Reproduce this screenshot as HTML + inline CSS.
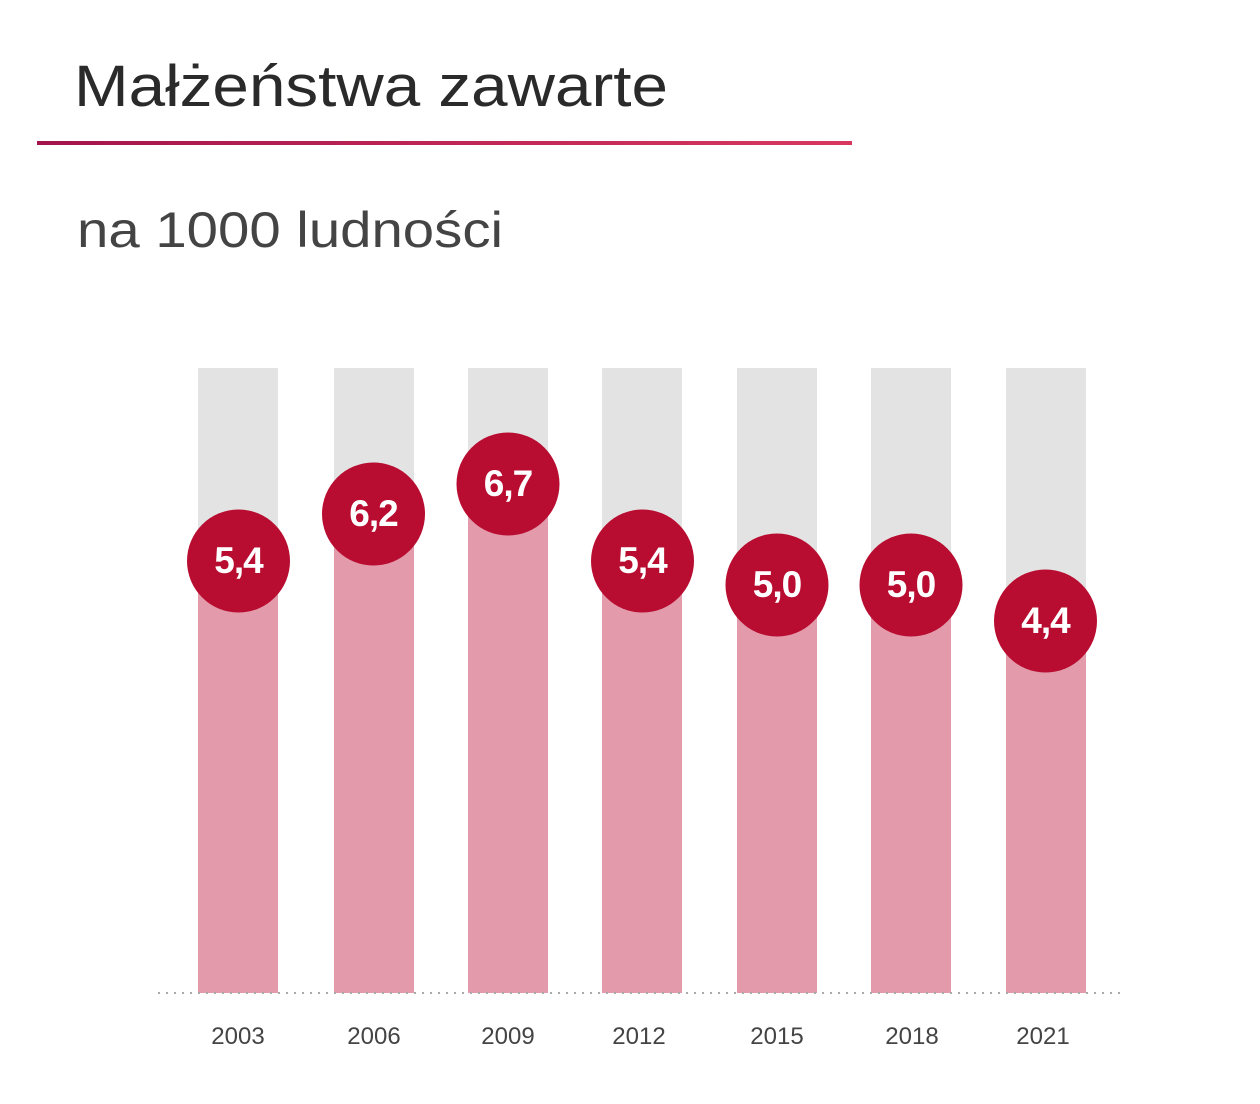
<!DOCTYPE html>
<html><head><meta charset="utf-8"><style>
html,body{margin:0;padding:0;background:#fff;}
svg{display:block}
</style></head><body>
<svg width="1260" height="1104" viewBox="0 0 1260 1104" xmlns="http://www.w3.org/2000/svg">
<defs><linearGradient id="g" x1="0" x2="1" y1="0" y2="0">
<stop offset="0" stop-color="#a3144c"/><stop offset="1" stop-color="#d8385f"/></linearGradient></defs>
<text x="74" y="106" font-family="Liberation Sans, sans-serif" font-size="58" fill="#2a2a2a" textLength="594" lengthAdjust="spacingAndGlyphs">Małżeństwa zawarte</text>
<rect x="37" y="141" width="815" height="4" fill="url(#g)"/>
<text x="77" y="247" font-family="Liberation Sans, sans-serif" font-size="50" fill="#444" textLength="426" lengthAdjust="spacingAndGlyphs">na 1000 ludności</text>
<g fill="#e3e3e3">
<rect x="198" y="368" width="80" height="625"/><rect x="334" y="368" width="80" height="625"/>
<rect x="468" y="368" width="80" height="625"/><rect x="602" y="368" width="80" height="625"/>
<rect x="737" y="368" width="80" height="625"/><rect x="871" y="368" width="80" height="625"/>
<rect x="1006" y="368" width="80" height="625"/>
</g>
<g fill="#e39bab">
<rect x="198" y="561" width="80" height="432"/><rect x="334" y="514" width="80" height="479"/>
<rect x="468" y="484" width="80" height="509"/><rect x="602" y="561" width="80" height="432"/>
<rect x="737" y="585" width="80" height="408"/><rect x="871" y="585" width="80" height="408"/>
<rect x="1006" y="621" width="80" height="372"/>
</g>
<line x1="158" y1="993" x2="1126" y2="993" stroke="#aaa" stroke-width="2" stroke-dasharray="2,6"/>
<g fill="#b80c30">
<circle cx="238.5" cy="561" r="51.5"/><circle cx="373.5" cy="514" r="51.5"/>
<circle cx="508" cy="484" r="51.5"/><circle cx="642.5" cy="561" r="51.5"/>
<circle cx="777" cy="585" r="51.5"/><circle cx="911" cy="585" r="51.5"/>
<circle cx="1045.5" cy="621" r="51.5"/>
</g>
<g font-family="Liberation Sans, sans-serif" font-size="37" font-weight="bold" fill="#fff" text-anchor="middle" letter-spacing="-1">
<text x="238.5" y="573">5,4</text><text x="373.5" y="526">6,2</text>
<text x="508" y="496">6,7</text><text x="642.5" y="573">5,4</text>
<text x="777" y="597">5,0</text><text x="911" y="597">5,0</text>
<text x="1045.5" y="633">4,4</text>
</g>
<g font-family="Liberation Sans, sans-serif" font-size="24" fill="#444" text-anchor="middle">
<text x="238" y="1044">2003</text><text x="374" y="1044">2006</text>
<text x="508" y="1044">2009</text><text x="639" y="1044">2012</text>
<text x="777" y="1044">2015</text><text x="912" y="1044">2018</text>
<text x="1043" y="1044">2021</text>
</g>
</svg>
</body></html>
